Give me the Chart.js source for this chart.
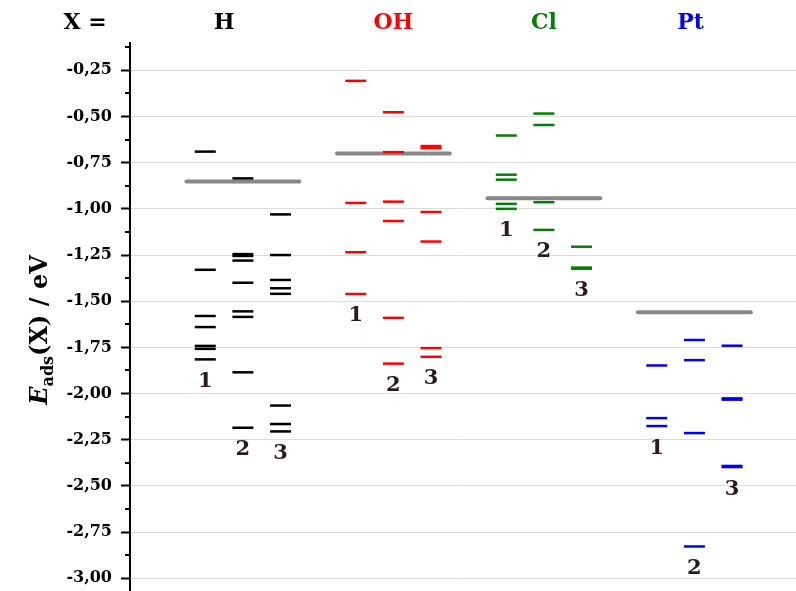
<!DOCTYPE html>
<html>
<head>
<meta charset="utf-8">
<script src="https://cdn.jsdelivr.net/npm/chart.js@4.4.1/dist/chart.umd.min.js"></script>
<style>
  html, body { margin: 0; padding: 0; background: #fff; }
  canvas { display: block; }
</style>
</head>
<body>
<canvas id="eadsChart" width="796" height="591"></canvas>
<script>
// adsorbates shown along the top, three site types each
const adsorbates = ['H', 'OH', 'Cl', 'Pt'];
const siteLabels = ['1', '2', '3'];

// adsorption energies in eV, one list per adsorbate and site type
const eH1 = [-0.69, -1.33, -1.58, -1.64, -1.742, -1.758, -1.815];
const eH2 = [-0.835, -1.245, -1.255, -1.28, -1.40, -1.555, -1.585, -1.885, -2.185];
const eH3 = [-1.03, -1.25, -1.385, -1.43, -1.46, -2.065, -2.165, -2.205];

const eOH1 = [-0.307, -0.968, -1.235, -1.461];
const eOH2 = [-0.477, -0.693, -0.961, -1.066, -1.59, -1.838];
const eOH3 = [-0.66, -0.672, -1.017, -1.177, -1.754, -1.801];

const eCl1 = [-0.603, -0.815, -0.842, -0.973, -1.0];
const eCl2 = [-0.484, -0.546, -0.964, -1.114];
const eCl3 = [-1.205, -1.318, -1.324];

const ePt1 = [-1.848, -2.133, -2.176];
const ePt2 = [-1.71, -1.819, -2.214, -2.828];
const ePt3 = [-1.741, -2.026, -2.033, -2.392, -2.398];

// mean adsorption energy of each adsorbate (grey bars)
const meanEnergy = [-0.852, -0.70, -0.942, -1.56];

const energies = [
  [eH1, eH2, eH3],
  [eOH1, eOH2, eOH3],
  [eCl1, eCl2, eCl3],
  [ePt1, ePt2, ePt3]
];

const colours = ['#000000', '#ff0000', '#008000', '#0000ff'];
const SERIF = '"DejaVu Serif", "Liberation Serif", serif';

// x in scale units: groups 4 apart, sites 1 apart
const siteX = (g, s) => 2 + 4 * g + s;
const headerX = [2.5, 7, 11, 14.9];

const datasets = [];
energies.forEach((sites, g) => {
  sites.forEach((vals, s) => {
    datasets.push({
      data: vals.map(v => ({ x: siteX(g, s), y: v })),
      pointStyle: 'line',
      pointRadius: 10.5,
      pointBorderWidth: 2.5,
      pointBorderColor: colours[g],
      showLine: false,
      order: 1
    });
  });
  // grey mean bar spans the three site columns
  datasets.push({
    type: 'line',
    data: [
      { x: siteX(g, 1) - 1.5, y: meanEnergy[g] },
      { x: siteX(g, 1) + 1.5, y: meanEnergy[g] }
    ],
    borderColor: '#888888',
    borderWidth: 4,
    borderCapStyle: 'round',
    pointRadius: 0,
    order: 2
  });
});

const labelsPlugin = {
  id: 'eadsLabels',
  afterDraw(chart) {
    const { ctx, chartArea } = chart;
    const xs = chart.scales.x;
    const ys = chart.scales.y;
    ctx.save();

    // minor tick marks halfway between the labelled ones
    ctx.strokeStyle = '#000';
    ctx.lineWidth = 2;
    for (let v = -0.125; v > ys.min; v -= 0.25) {
      const py = Math.round(ys.getPixelForValue(v));
      ctx.beginPath();
      ctx.moveTo(chartArea.left - 5, py);
      ctx.lineTo(chartArea.left, py);
      ctx.stroke();
    }

    // header row
    ctx.textAlign = 'center';
    ctx.textBaseline = 'middle';
    ctx.font = 'bold 22px ' + SERIF;
    ctx.fillStyle = '#000';
    ctx.fillText('X =', 85, 23);
    adsorbates.forEach((name, g) => {
      ctx.fillStyle = colours[g];
      ctx.fillText(name, xs.getPixelForValue(headerX[g]), 23);
    });

    // site numbers under the lowest level of each column
    ctx.font = 'bold 21px ' + SERIF;
    ctx.fillStyle = '#2b1a1a';
    energies.forEach((sites, g) => {
      sites.forEach((vals, s) => {
        const py = ys.getPixelForValue(Math.min(...vals)) + 22;
        ctx.fillText(siteLabels[s], xs.getPixelForValue(siteX(g, s)), py);
      });
    });

    // y-axis title: E_ads(X) / eV
    const parts = [
      { t: 'E', f: 'italic bold 24px ' + SERIF, dy: 0 },
      { t: 'ads', f: 'bold 16px ' + SERIF, dy: 6 },
      { t: '(X) / eV', f: 'bold 24px ' + SERIF, dy: 0 }
    ];
    let total = 0;
    parts.forEach(p => { ctx.font = p.f; p.w = ctx.measureText(p.t).width; total += p.w; });
    ctx.translate(47, 330);
    ctx.rotate(-Math.PI / 2);
    ctx.textAlign = 'left';
    ctx.textBaseline = 'alphabetic';
    ctx.fillStyle = '#000';
    let cx = -total / 2;
    parts.forEach(p => {
      ctx.font = p.f;
      ctx.fillText(p.t, cx, p.dy);
      cx += p.w;
    });
    ctx.restore();
  }
};

new Chart(document.getElementById('eadsChart'), {
  type: 'scatter',
  data: { datasets },
  options: {
    responsive: false,
    animation: false,
    events: [],
    layout: { autoPadding: false, padding: { top: 43, left: 0, right: 0, bottom: 0 } },
    plugins: {
      legend: { display: false },
      tooltip: { enabled: false }
    },
    scales: {
      x: {
        type: 'linear',
        display: false,
        min: 0,
        max: 17.7
      },
      y: {
        type: 'linear',
        min: -3.069,
        max: -0.102,
        afterFit(scale) {
          scale.width = 130;
          scale.paddingTop = 0;
          scale.paddingBottom = 0;
        },
        border: { display: true, color: '#000', width: 2 },
        grid: {
          color: '#dcdcdc',
          lineWidth: 1,
          tickLength: 9,
          tickColor: '#000',
          tickWidth: 2
        },
        ticks: {
          stepSize: 0.25,
          includeBounds: false,
          padding: 9,
          color: '#000',
          font: { family: SERIF, size: 16, weight: 'bold' },
          callback: v => v.toFixed(2).replace('.', ',')
        }
      }
    }
  },
  plugins: [labelsPlugin]
});
</script>
</body>
</html>
